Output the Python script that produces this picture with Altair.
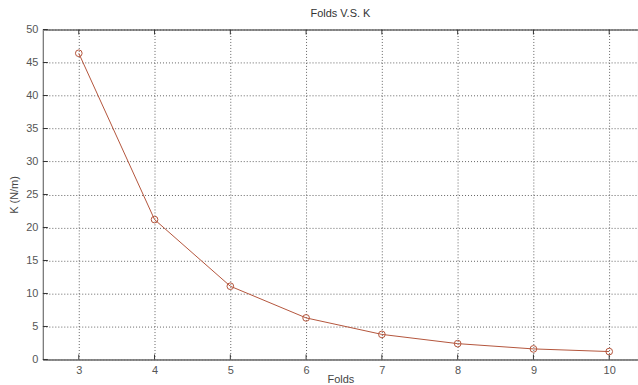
import altair as alt
import pandas as pd

folds = [3, 4, 5, 6, 7, 8, 9, 10]
k_values = [46.4, 21.2, 11.1, 6.3, 3.8, 2.4, 1.6, 1.2]
x_ticks = [3, 4, 5, 6, 7, 8, 9, 10]
y_ticks = [0, 5, 10, 15, 20, 25, 30, 35, 40, 45, 50]

df = pd.DataFrame({"Folds": folds, "K": k_values})
xt = pd.DataFrame({"Folds": x_ticks})
yt = pd.DataFrame({"K": y_ticks})

FONT = "Liberation Sans"
LINE = "#b4553c"

xscale = alt.Scale(domain=[2.526, 10.38], nice=False, zero=False)
yscale = alt.Scale(domain=[0, 50], nice=False)

x_enc = alt.X("Folds:Q", scale=xscale,
              axis=alt.Axis(values=x_ticks, title="Folds", format="d",
                            grid=True, gridColor="#555", gridDash=[1, 2], gridOpacity=0.9,
                            tickSize=0, labelPadding=5, titlePadding=-2,
                            domainColor="#888", labelColor="#555", titleColor="#444",
                            labelFont=FONT, titleFont=FONT, labelFontSize=11, titleFontSize=11,
                            titleFontWeight="normal", labelOverlap=False))
y_enc = alt.Y("K:Q", scale=yscale,
              axis=alt.Axis(values=y_ticks, title="K (N/m)",
                            grid=True, gridColor="#555", gridDash=[1, 2], gridOpacity=0.9,
                            tickSize=0, labelPadding=5, titlePadding=6,
                            domainColor="#888", labelColor="#555", titleColor="#444",
                            labelFont=FONT, titleFont=FONT, labelFontSize=11, titleFontSize=11,
                            titleFontWeight="normal", labelOverlap=False))

line = alt.Chart(df).mark_line(color=LINE, strokeWidth=1).encode(x=x_enc, y=y_enc)
pts = alt.Chart(df).mark_point(shape="circle", filled=False, color=LINE, size=45,
                               strokeWidth=1, opacity=1).encode(x=x_enc, y=y_enc)

# inward ticks (bottom, top, left)
tick_bottom = alt.Chart(xt).mark_rule(color="#333", strokeWidth=1).encode(
    x=x_enc, y=alt.value(331), y2=alt.value(326))
tick_top = alt.Chart(xt).mark_rule(color="#333", strokeWidth=1).encode(
    x=x_enc, y=alt.value(0), y2=alt.value(5))
tick_left = alt.Chart(yt).mark_rule(color="#333", strokeWidth=1).encode(
    y=y_enc, x=alt.value(0), x2=alt.value(5))

chart = alt.layer(tick_bottom, tick_top, tick_left, line, pts).properties(
    width=597, height=331,
    title=alt.TitleParams("Folds V.S. K", font=FONT, fontSize=11, fontWeight="normal",
                          color="#333", offset=5, anchor="middle"),
    autosize=alt.AutoSizeParams(type="none"),
    padding={"left": 43, "top": 29, "right": 0, "bottom": 25},
    background="white",
).configure_view(stroke="#222", strokeWidth=1)

chart.save("out.html", embed_options={"renderer": "svg", "actions": False})
